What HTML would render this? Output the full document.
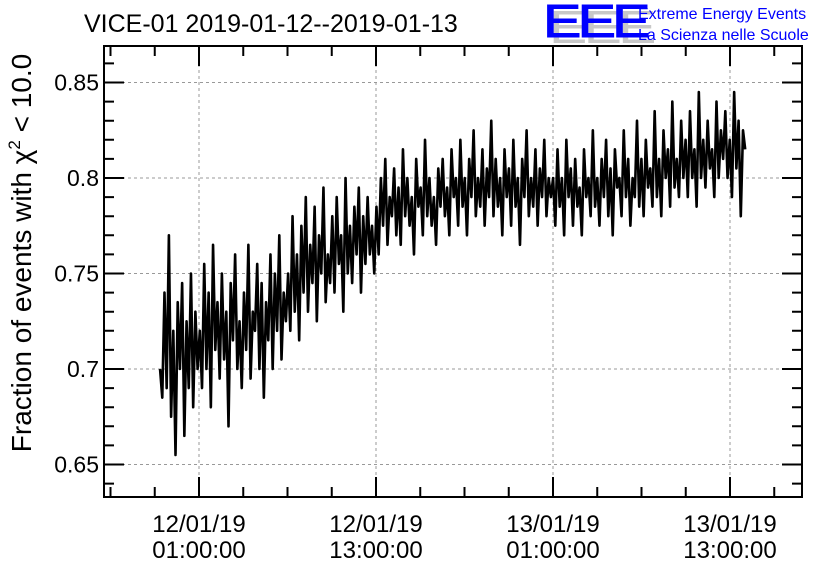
<!DOCTYPE html>
<html><head><meta charset="utf-8"><style>
html,body{margin:0;padding:0;background:#fff;width:836px;height:572px;overflow:hidden}
svg text{font-family:"Liberation Sans",sans-serif}
</style></head><body>
<svg id="chart" width="836" height="572" xmlns="http://www.w3.org/2000/svg">
<text x="84" y="32" font-size="25">VICE-01 2019-01-12--2019-01-13</text>
<g>
<text x="0" y="0" font-size="46" fill="#c8c8c8" transform="translate(549,43) scale(1.25,1)" letter-spacing="-3">EEE</text>
<text x="0" y="0" font-size="46" fill="#0000ff" transform="translate(543,37) scale(1.25,1)" letter-spacing="-3" stroke="#0000ff" stroke-width="1">EEE</text>
<text x="638" y="19" font-size="16" fill="#0000ff">Extreme Energy Events</text>
<text x="638" y="40" font-size="16" fill="#0000ff">La Scienza nelle Scuole</text>
</g>
<text transform="translate(31,253) rotate(-90)" text-anchor="middle" font-size="28">Fraction of events with χ<tspan dy="-11" font-size="17">2</tspan><tspan dy="11"> &lt; 10.0</tspan></text>
<g id="grid"></g>
<g id="series"></g>
<g id="axes"></g>
</svg>
<script>
const yTicks=[0.65,0.7,0.75,0.8,0.85];
const yTickLabels=["0.65","0.7","0.75","0.8","0.85"];
const xTicks=[0,12,24,36];
const xTickLabels1=["12/01/19","12/01/19","13/01/19","13/01/19"];
const xTickLabels2=["01:00:00","13:00:00","01:00:00","13:00:00"];
const startHour=-2.64;
const stepHours=0.1497;
const values=[0.70,0.685,0.74,0.69,0.77,0.675,0.72,0.655,0.735,0.70,0.745,0.665,0.725,0.69,0.75,0.68,0.73,0.70,
0.72,0.69,0.755,0.70,0.74,0.68,0.765,0.71,0.735,0.695,0.75,0.705,0.73,0.67,0.745,0.715,0.76,0.70,0.725,0.69,
0.74,0.71,0.765,0.695,0.73,0.72,0.755,0.70,0.745,0.685,0.735,0.715,0.76,0.70,0.75,0.72,0.77,0.705,0.74,0.725,
0.75,0.72,0.78,0.73,0.76,0.715,0.775,0.74,0.79,0.73,0.765,0.745,0.785,0.725,0.77,0.75,0.795,0.735,0.76,0.745,
0.78,0.74,0.79,0.755,0.77,0.73,0.80,0.75,0.775,0.745,0.785,0.76,0.795,0.74,0.78,0.755,0.79,0.76,0.775,0.75,
0.785,0.76,0.80,0.775,0.81,0.765,0.79,0.78,0.805,0.77,0.795,0.765,0.815,0.78,0.80,0.775,0.79,0.76,0.81,0.785,
0.795,0.77,0.82,0.78,0.80,0.775,0.79,0.765,0.805,0.785,0.81,0.78,0.795,0.77,0.815,0.79,0.80,0.775,0.82,0.785,
0.80,0.77,0.81,0.79,0.825,0.78,0.80,0.785,0.815,0.775,0.805,0.79,0.83,0.78,0.81,0.785,0.80,0.77,0.815,0.79,
0.805,0.775,0.82,0.785,0.80,0.765,0.81,0.79,0.825,0.78,0.80,0.785,0.815,0.775,0.805,0.79,0.82,0.78,0.80,0.79,
0.80,0.775,0.815,0.785,0.80,0.77,0.82,0.79,0.805,0.775,0.81,0.785,0.795,0.77,0.815,0.79,0.80,0.78,0.825,0.785,
0.80,0.775,0.81,0.79,0.82,0.78,0.805,0.77,0.815,0.795,0.80,0.78,0.825,0.79,0.81,0.775,0.80,0.79,0.83,0.785,
0.81,0.78,0.82,0.795,0.805,0.785,0.835,0.79,0.81,0.78,0.825,0.80,0.815,0.785,0.84,0.795,0.81,0.79,0.83,0.80,
0.82,0.79,0.835,0.80,0.815,0.785,0.845,0.80,0.82,0.795,0.83,0.805,0.815,0.79,0.84,0.80,0.825,0.81,0.835,0.80,
0.82,0.79,0.845,0.805,0.83,0.78,0.825,0.815];

const L=104,R=802,T=46,B=497;
const xS=h=>199+h*177/12;
const yS=v=>178-(v-0.8)*95.5/0.05;
const NS="http://www.w3.org/2000/svg";
function mk(tag,attrs,parent){const e=document.createElementNS(NS,tag);for(const k in attrs)e.setAttribute(k,attrs[k]);parent.appendChild(e);return e;}
const grid=document.getElementById('grid'),axes=document.getElementById('axes'),series=document.getElementById('series');
yTicks.forEach((v,i)=>{
  const g=mk('line',{x1:L,x2:R,y1:yS(v),y2:yS(v),stroke:'#999','stroke-dasharray':'3,3','stroke-width':1},grid);
  
  
  const t=mk('text',{x:99,y:yS(v)+8,'text-anchor':'end','font-size':23},axes);
  t.textContent=yTickLabels[i];
  
  
});
xTicks.forEach((h,i)=>{
  const g=mk('line',{x1:xS(h),x2:xS(h),y1:T,y2:B,stroke:'#999','stroke-dasharray':'3,3','stroke-width':1},grid);
  
  
  const t1=mk('text',{x:xS(h),y:532,'text-anchor':'middle','font-size':24},axes);
  t1.textContent=xTickLabels1[i];
  
  
  const t2=mk('text',{x:xS(h),y:558,'text-anchor':'middle','font-size':24},axes);
  t2.textContent=xTickLabels2[i];
  
  
});
let tk='';
for(let h=-6;h<=42;h+=3){const x=xS(h);if(x<L+2||x>R-2)continue;const len=(h%12===0)?20:10;tk+=`M${x},${B}v${-len}M${x},${T}v${len}`;}
for(let v=0.64;v<=0.87;v+=0.01){const y=yS(v);if(y<T+2||y>B-2)continue;const maj=Math.abs(Math.round(v*100)%5)===0;const len=maj?20:10;tk+=`M${L},${y}h${len}M${R},${y}h${-len}`;}
const ticks=mk('path',{d:tk,stroke:'#000','stroke-width':2,fill:'none'},axes);


const frame=mk('rect',{x:L,y:T,width:R-L,height:B-T,fill:'none',stroke:'#000','stroke-width':2},axes);


const pts=values.map((v,i)=>xS(startHour+i*stepHours).toFixed(2)+','+yS(v).toFixed(2)).join(' ');
const line=mk('polyline',{points:pts,fill:'none',stroke:'#000','stroke-width':2.6,'stroke-linejoin':'round'},series);


</script>
</body></html>
